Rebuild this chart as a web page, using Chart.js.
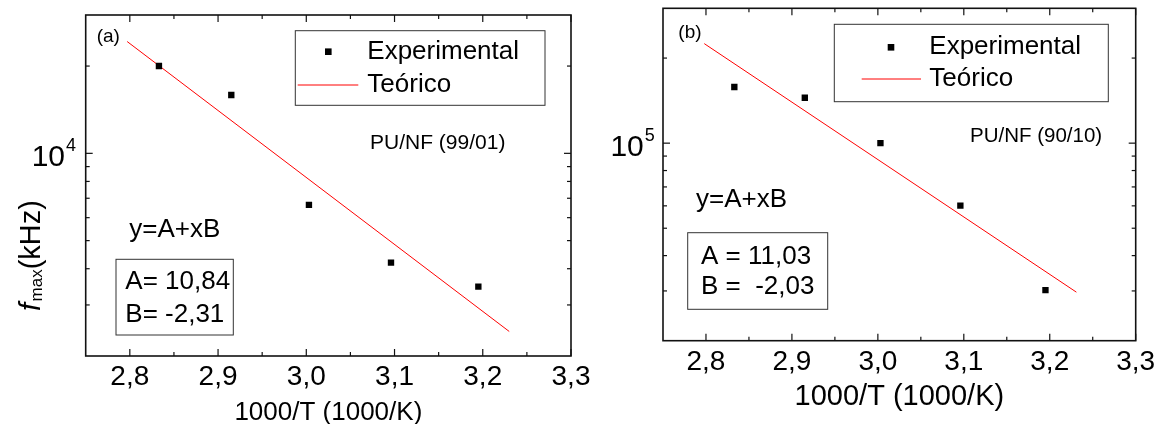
<!DOCTYPE html>
<html>
<head>
<meta charset="utf-8">
<script src="https://cdn.jsdelivr.net/npm/chart.js@4.4.1/dist/chart.umd.min.js"></script>
<style>
    body { margin: 0; background: #fff; }
    #wrap { position: relative; width: 1167px; height: 424px; overflow: hidden; }
    canvas { position: absolute; top: 0; }
</style>
</head>
<body>
<div id="wrap">
    <canvas id="chart-a" width="600" height="424" style="left:0"></canvas>
    <canvas id="chart-b" width="577" height="424" style="left:590px"></canvas>
</div>
<script>
// DATA  -------------------------------------------------------------------------------

const invTemp = [2.833, 2.915, 3.003, 3.096, 3.195];       // 1000/T
const fmaxA = [20000, 15900, 6640, 4200, 3470];             // PU/NF (99/01)
const fmaxB = [158000, 144700, 100000, 60100, 30200];       // PU/NF (90/10)

const fitXA = [2.797, 3.230];
const fitYA = [24300, 2430];
const fitXB = [2.798, 3.231];
const fitYB = [225000, 29700];

const xTicks = [2.8, 2.9, 3.0, 3.1, 3.2, 3.3];
const xTickLabels = ['2,8', '2,9', '3,0', '3,1', '3,2', '3,3'];
const xMinorTicks = [2.85, 2.95, 3.05, 3.15, 3.25];
const yMinorA = [3000, 4000, 5000, 6000, 7000, 8000, 9000, 20000];
const yMinorB = [30000, 40000, 50000, 60000, 70000, 80000, 90000, 200000];

const legendLabels = ['Experimental', 'Teórico'];

const FONT = '"Liberation Sans", Arial, Helvetica, sans-serif';

// PANELS  -----------------------------------------------------------------------------

const panels = [
    {
        id: 'chart-a',
        y: fmaxA, fitX: fitXA, fitY: fitYA,
        yMin: 2000, yMax: 30000,
        yMajor: 10000, yExp: '4', yMinor: yMinorA,
        padding: { left: 85.7, top: 15, right: 29, bottom: 68 },
        tag: { text: '(a)', x: 96.7, y: 36.7 },
        legend: { x: 295.3, y: 30.7, w: 249.7, h: 74.6, mx: 328.3, my: 51.7, lx0: 297.7, lx1: 358.3, ly: 85, tx: 367.3 },
        sample: { text: 'PU/NF (99/01)', x: 370, y: 143.3, size: 21 },
        eq: { x: 129.3, y: 230 },
        box: { x: 116, y: 259.3, w: 117.3, h: 75.7, tx: 125.3, y1: 281.7, y2: 315, lines: ['A= 10,84', 'B= -2,31'] },
        xLabelY: 377.7, xTitleY: 413, xTitleSize: 26,
        tenRight: 65, supX: 66,
        yTitle: { x: 40, y: 311 }
    },
    {
        id: 'chart-b',
        y: fmaxB, fitX: fitXB, fitY: fitYB,
        yMin: 20000, yMax: 300000,
        yMajor: 100000, yExp: '5', yMinor: yMinorB,
        padding: { left: 73, top: 8.3, right: 31.3, bottom: 83.3 },
        tag: { text: '(b)', x: 88.3, y: 32.3 },
        legend: { x: 244.3, y: 24.3, w: 274, h: 77.4, mx: 301, my: 47.3, lx0: 271.7, lx1: 331, ly: 79, tx: 339.3 },
        sample: { text: 'PU/NF (90/10)', x: 380, y: 136.7, size: 20.5 },
        eq: { x: 106, y: 200 },
        box: { x: 97.7, y: 232.7, w: 140, h: 76.6, tx: 111, y1: 256.7, y2: 287.3, lines: ['A = 11,03', 'B =  -2,03'] },
        xLabelY: 362.7, xTitleY: 396.7, xTitleSize: 29,
        tenRight: 53.8, supX: 54.8,
        yTitle: null
    }
];

// DRAWING HELPERS  --------------------------------------------------------------------

function text(ctx, str, x, y, size, align, baseline, style) {
    ctx.font = (style || '') + ' ' + size + 'px ' + FONT;
    ctx.textAlign = align || 'left';
    ctx.textBaseline = baseline || 'middle';
    ctx.fillStyle = '#000';
    ctx.fillText(str, x, y);
}

function line(ctx, x0, y0, x1, y1) {
    ctx.beginPath();
    ctx.moveTo(x0, y0);
    ctx.lineTo(x1, y1);
    ctx.stroke();
}

function framePlugin(p) {
    return {
        id: 'frame-' + p.id,
        afterDraw(chart) {
            const ctx = chart.ctx;
            const a = chart.chartArea;
            const xs = chart.scales.x;
            const ys = chart.scales.y;
            ctx.save();

            // axes box
            ctx.strokeStyle = '#111';
            ctx.lineWidth = 1.6;
            ctx.strokeRect(a.left, a.top, a.right - a.left, a.bottom - a.top);

            // ticks, all pointing inward
            ctx.lineWidth = 1.2;
            xTicks.forEach(v => {
                const px = xs.getPixelForValue(v);
                line(ctx, px, a.bottom, px, a.bottom - 7);
                line(ctx, px, a.top, px, a.top + 7);
            });
            xMinorTicks.forEach(v => {
                const px = xs.getPixelForValue(v);
                line(ctx, px, a.bottom, px, a.bottom - 4);
                line(ctx, px, a.top, px, a.top + 4);
            });
            const yMaj = ys.getPixelForValue(p.yMajor);
            line(ctx, a.left, yMaj, a.left + 7, yMaj);
            line(ctx, a.right, yMaj, a.right - 7, yMaj);
            p.yMinor.forEach(v => {
                const py = ys.getPixelForValue(v);
                line(ctx, a.left, py, a.left + 4, py);
                line(ctx, a.right, py, a.right - 4, py);
            });

            // tick labels
            xTicks.forEach((v, i) => {
                text(ctx, xTickLabels[i], xs.getPixelForValue(v), p.xLabelY, 28, 'center');
            });
            text(ctx, '10', p.tenRight, yMaj + 12.8, 30, 'right', 'alphabetic');
            text(ctx, p.yExp, p.supX, yMaj - 2.3, 18, 'left', 'alphabetic');

            // axis titles
            text(ctx, '1000/T (1000/K)', (a.left + a.right) / 2, p.xTitleY, p.xTitleSize, 'center');
            if (p.yTitle) {
                ctx.save();
                ctx.translate(p.yTitle.x, p.yTitle.y);
                ctx.rotate(-Math.PI / 2);
                text(ctx, 'f', 0, 0, 29, 'left', 'alphabetic', 'italic');
                let w = ctx.measureText('f').width + 1.5;
                text(ctx, 'max', w, 2, 17, 'left', 'alphabetic');
                w += ctx.measureText('max').width;
                text(ctx, '(kHz)', w, 0, 29, 'left', 'alphabetic');
                ctx.restore();
            }

            // panel tag and annotations
            text(ctx, p.tag.text, p.tag.x, p.tag.y, 19);
            text(ctx, p.sample.text, p.sample.x, p.sample.y, p.sample.size);
            text(ctx, 'y=A+xB', p.eq.x, p.eq.y, 26);

            ctx.strokeStyle = '#333';
            ctx.lineWidth = 1;
            ctx.strokeRect(p.box.x, p.box.y, p.box.w, p.box.h);
            text(ctx, p.box.lines[0], p.box.tx, p.box.y1, 26);
            text(ctx, p.box.lines[1], p.box.tx, p.box.y2, 26);

            // legend
            const L = p.legend;
            ctx.strokeRect(L.x, L.y, L.w, L.h);
            ctx.fillStyle = '#000';
            ctx.fillRect(L.mx - 3.3, L.my - 3.3, 6.6, 6.6);
            ctx.strokeStyle = '#ff0000';
            ctx.lineWidth = 1;
            line(ctx, L.lx0, L.ly, L.lx1, L.ly);
            text(ctx, legendLabels[0], L.tx, L.my, 26);
            text(ctx, legendLabels[1], L.tx, L.ly, 26);

            ctx.restore();
        }
    };
}

// CHARTS  -----------------------------------------------------------------------------

function initializePanel(p) {
    const canvas = document.getElementById(p.id);
    const ctx = canvas.getContext('2d');

    new Chart(ctx, {
        type: 'scatter',
        data: {
            datasets: [
                {
                    label: legendLabels[0],
                    data: invTemp.map((x, i) => ({ x: x, y: p.y[i] })),
                    pointStyle: 'rect',
                    pointRadius: 4.5,
                    backgroundColor: '#000',
                    borderColor: '#000',
                    borderWidth: 0
                },
                {
                    label: legendLabels[1],
                    data: p.fitX.map((x, i) => ({ x: x, y: p.fitY[i] })),
                    showLine: true,
                    pointRadius: 0,
                    borderColor: '#ff0000',
                    borderWidth: 1,
                    fill: false
                }
            ]
        },
        options: {
            responsive: false,
            animation: false,
            devicePixelRatio: 1,
            layout: { padding: p.padding },
            scales: {
                x: { type: 'linear', min: 2.75, max: 3.3, display: false },
                y: { type: 'logarithmic', min: p.yMin, max: p.yMax, display: false }
            },
            plugins: {
                legend: { display: false },
                tooltip: { enabled: false }
            }
        },
        plugins: [framePlugin(p)]
    });
}

panels.forEach(initializePanel);
</script>
</body>
</html>
